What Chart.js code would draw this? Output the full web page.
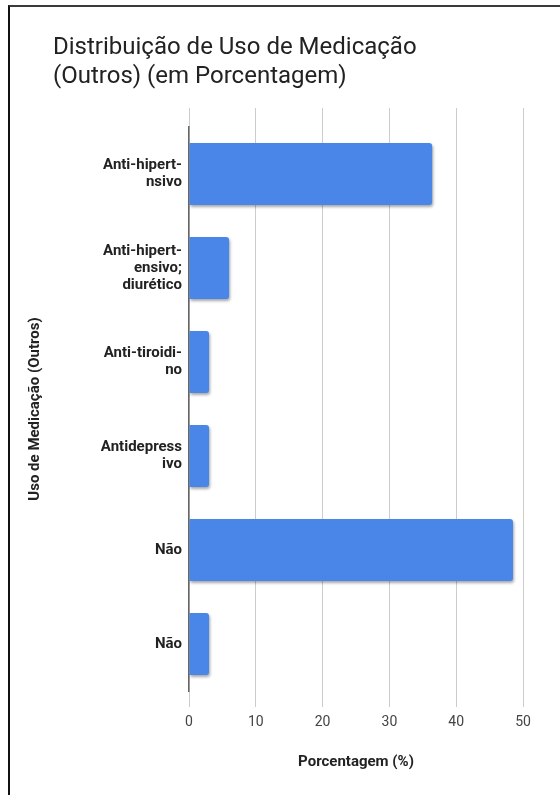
<!DOCTYPE html>
<html>
<head>
<meta charset="utf-8">
<script src="https://cdn.jsdelivr.net/npm/chart.js@4/dist/chart.umd.min.js"></script>
<style>
  html, body { margin: 0; padding: 0; background: #fff; }
  #wrap { position: relative; width: 560px; height: 795px; overflow: hidden; }
  #frame { position: absolute; left: 8px; top: 5px; right: 0; bottom: 0;
           border-top: 2px solid #3a3a3a; border-left: 2px solid #111; pointer-events: none; }
  #title { position: absolute; left: 53px; top: 32px; font-family: Roboto, sans-serif;
           font-size: 24px; line-height: 29px; color: #222; }
  canvas { position: absolute; left: 0; top: 0; }
</style>
</head>
<body>
<div id="wrap">
  <canvas id="c" width="560" height="795"></canvas>
  <div id="frame"></div>
  <div id="title">Distribuição de Uso de Medicação<br>(Outros) (em Porcentagem)</div>
</div>
<script>
const categories = [
  ["Anti-hipert-", "nsivo"],
  ["Anti-hipert-", "ensivo;", "diurético"],
  ["Anti-tiroidi-", "no"],
  ["Antidepress", "ivo"],
  "Não",
  "Não"
];
const values = [36.4, 6.0, 3.0, 3.0, 48.5, 3.0];
const xTicks = [0, 10, 20, 30, 40, 50];
const xTitle = "Porcentagem (%)";
const yTitle = "Uso de Medicação (Outros)";

const shadowPlugin = {
  id: 'barShadow',
  beforeDatasetsDraw(chart) {
    const ctx = chart.ctx;
    ctx.save();
    ctx.shadowColor = 'rgba(0,0,0,0.35)';
    ctx.shadowBlur = 3;
    ctx.shadowOffsetX = 1;
    ctx.shadowOffsetY = 2;
  },
  afterDatasetsDraw(chart) { chart.ctx.restore(); }
};

new Chart(document.getElementById('c'), {
  type: 'bar',
  data: {
    labels: categories,
    datasets: [{
      data: values,
      backgroundColor: '#4a86e8',
      borderRadius: 3,
      borderSkipped: 'start',
      barPercentage: 0.66,
      categoryPercentage: 1.0
    }]
  },
  options: {
    indexAxis: 'y',
    responsive: false,
    animation: false,
    devicePixelRatio: 1,
    layout: { padding: { top: 108, right: 37, bottom: 0, left: 0 } },
    plugins: { legend: { display: false }, tooltip: { enabled: false } },
    scales: {
      x: {
        type: 'linear', position: 'bottom', min: 0, max: 50,
        afterBuildTicks(s) { s.ticks = xTicks.map(v => ({ value: v })); },
        afterFit(s) { s.height = 104; },
        grid: { color: '#cccccc', lineWidth: 1, tickLength: 16, drawTicks: true },
        border: { display: false },
        ticks: { color: '#444', padding: 7, font: { family: 'Roboto', size: 14 } },
        title: { display: true, text: xTitle, color: '#222', padding: { top: 0, bottom: 24 },
                 font: { family: 'Roboto', size: 15, weight: 'bold' } }
      },
      x2: {
        type: 'linear', position: 'top', min: 0, max: 50,
        afterBuildTicks(s) { s.ticks = xTicks.map(v => ({ value: v })); },
        afterFit(s) { s.height = 19; },
        grid: { color: '#cccccc', lineWidth: 1, tickLength: 19, drawOnChartArea: false, drawTicks: true },
        border: { display: false },
        ticks: { display: false }
      },
      y: {
        afterFit(s) { s.width = 189; },
        grid: { display: false, drawTicks: false },
        border: { display: true, color: '#666', width: 1.5 },
        ticks: { color: '#222', padding: 7, font: { family: 'Roboto', size: 15, weight: 'bold', lineHeight: 1.15 } },
        title: { display: true, text: yTitle, color: '#222', padding: { top: 26, bottom: 0 },
                 font: { family: 'Roboto', size: 15, weight: 'bold' } }
      }
    }
  },
  plugins: [shadowPlugin]
});
</script>
</body>
</html>
